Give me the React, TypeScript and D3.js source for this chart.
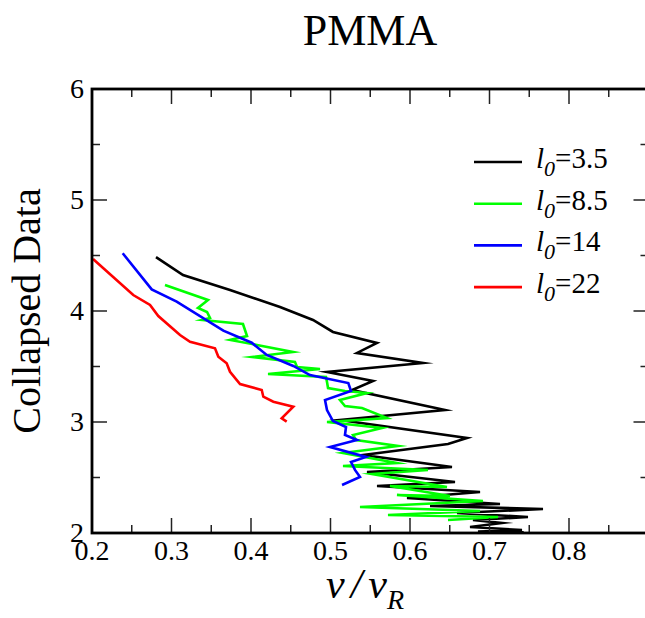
import React from 'react';
import * as d3 from 'd3';

const chartTitle = 'PMMA';
const xLabelMain = 'v';
const xLabelSub = 'R';
const yLabel = 'Collapsed Data';
const xTickValues = [0.2, 0.3, 0.4, 0.5, 0.6, 0.7, 0.8];
const yTickValues = [2, 3, 4, 5, 6];
const legendValues = ['3.5', '8.5', '14', '22'];
const seriesColors = ['#000000', '#00ff00', '#0000ff', '#ff0000'];

const seriesL35: [number, number][] = [
  [0.2805, 4.486], [0.3145, 4.324], [0.3736, 4.189], [0.4365, 4.036], [0.478, 3.919],
  [0.5031, 3.811], [0.5585, 3.712], [0.5333, 3.622], [0.6164, 3.532], [0.4956, 3.45],
  [0.5535, 3.369], [0.527, 3.288], [0.644, 3.108], [0.5119, 3.018], [0.6717, 2.856],
  [0.6478, 2.802], [0.5409, 2.703], [0.6528, 2.595], [0.5459, 2.55], [0.6566, 2.459],
  [0.5585, 2.423], [0.6881, 2.369], [0.5962, 2.315], [0.7132, 2.261], [0.6252, 2.243],
  [0.7673, 2.216], [0.6591, 2.18], [0.7484, 2.144], [0.6792, 2.117], [0.7157, 2.09],
  [0.6755, 2.054], [0.7409, 2.027], [0.6855, 2.012], [0.743, 2.006],
];

const seriesL85: [number, number][] = [
  [0.2918, 4.234], [0.3459, 4.099], [0.3333, 4.027], [0.3447, 3.991], [0.3484, 3.937],
  [0.3384, 3.919], [0.3899, 3.883], [0.395, 3.775], [0.3736, 3.739], [0.4075, 3.694],
  [0.4528, 3.631], [0.4013, 3.586], [0.4553, 3.541], [0.4579, 3.495], [0.4868, 3.477],
  [0.4214, 3.432], [0.4943, 3.405], [0.4956, 3.36], [0.4969, 3.306], [0.5182, 3.279],
  [0.5459, 3.261], [0.5119, 3.198], [0.5182, 3.144], [0.5396, 3.126], [0.5711, 3.036],
  [0.4956, 3.0], [0.5648, 2.946], [0.5283, 2.883], [0.5321, 2.838], [0.5849, 2.784],
  [0.5157, 2.721], [0.5836, 2.631], [0.5157, 2.604], [0.6226, 2.568], [0.5522, 2.532],
  [0.6465, 2.414], [0.5748, 2.423], [0.6503, 2.333], [0.5836, 2.342], [0.6918, 2.288],
  [0.5371, 2.234], [0.6881, 2.198], [0.5723, 2.162], [0.7107, 2.144], [0.6478, 2.117],
];

const seriesL14: [number, number][] = [
  [0.2386, 4.52], [0.2751, 4.195], [0.3065, 4.084], [0.3652, 3.823], [0.4009, 3.714],
  [0.4198, 3.604], [0.4532, 3.505], [0.4742, 3.423], [0.5224, 3.351], [0.5258, 3.279],
  [0.4931, 3.198], [0.4956, 3.108], [0.5031, 3.009], [0.5195, 2.955], [0.5182, 2.883],
  [0.5333, 2.838], [0.4994, 2.775], [0.5447, 2.685], [0.5258, 2.64], [0.5308, 2.568],
  [0.5371, 2.505], [0.5145, 2.432],
];

const seriesL22: [number, number][] = [
  [0.2013, 4.468], [0.2519, 4.144], [0.273, 4.054], [0.2834, 3.955], [0.3107, 3.784],
  [0.3233, 3.723], [0.3547, 3.664], [0.3589, 3.588], [0.3694, 3.529], [0.3736, 3.453],
  [0.3862, 3.342], [0.4135, 3.288], [0.4155, 3.228], [0.4281, 3.183], [0.4532, 3.138],
  [0.4386, 3.033], [0.4449, 3.003],
];

const allSeries = [seriesL35, seriesL85, seriesL14, seriesL22];

const W = 645;
const H = 618;
const left = 92;
const right = 648.5;
const top = 89;
const bottom = 533;
const fontStyle = { fontFamily: '"Liberation Serif", "Times New Roman", Times, serif' };

export default function App() {
  const x = d3.scaleLinear().domain([0.2, 0.9]).range([left, right]);
  const y = d3.scaleLinear().domain([2, 6]).range([bottom, top]);
  const line = d3.line<[number, number]>().x(d => x(d[0])).y(d => y(d[1]));

  const xMajor = d3.range(0.2, 0.901, 0.1);
  const xMinor = d3.range(0.25, 0.9, 0.1);
  const yMajor = d3.range(2, 6.001, 1);
  const yMinor = d3.range(2.5, 6, 1);
  const majorLen = 15;
  const minorLen = 8;
  const tickStroke = '#222';

  return (
    <svg width={W} height={H} style={{ position: 'absolute', left: 0, top: 0, display: 'block', background: '#fff' }}>
      <rect x={0} y={0} width={W} height={H} fill="#fff" />
      {allSeries.map((s, i) => (
        <path key={i} d={line(s) || ''} fill="none" stroke={seriesColors[i]} strokeWidth={2.6} strokeLinejoin="miter" strokeMiterlimit={10} />
      ))}
      {xMajor.map((v, i) => (
        <g key={'xM' + i}>
          <line x1={x(v)} x2={x(v)} y1={bottom} y2={bottom - majorLen} stroke={tickStroke} strokeWidth={1.5} />
          <line x1={x(v)} x2={x(v)} y1={top} y2={top + majorLen} stroke={tickStroke} strokeWidth={1.5} />
        </g>
      ))}
      {xMinor.map((v, i) => (
        <g key={'xm' + i}>
          <line x1={x(v)} x2={x(v)} y1={bottom} y2={bottom - minorLen} stroke={tickStroke} strokeWidth={1.5} />
          <line x1={x(v)} x2={x(v)} y1={top} y2={top + minorLen} stroke={tickStroke} strokeWidth={1.5} />
        </g>
      ))}
      {yMajor.map((v, i) => (
        <g key={'yM' + i}>
          <line x1={left} x2={left + majorLen} y1={y(v)} y2={y(v)} stroke={tickStroke} strokeWidth={1.5} />
          <line x1={right} x2={right - majorLen} y1={y(v)} y2={y(v)} stroke={tickStroke} strokeWidth={1.5} />
        </g>
      ))}
      {yMinor.map((v, i) => (
        <g key={'ym' + i}>
          <line x1={left} x2={left + minorLen} y1={y(v)} y2={y(v)} stroke={tickStroke} strokeWidth={1.5} />
          <line x1={right} x2={right - minorLen} y1={y(v)} y2={y(v)} stroke={tickStroke} strokeWidth={1.5} />
        </g>
      ))}
      <rect x={left} y={top} width={right - left} height={bottom - top} fill="none" stroke="#000" strokeWidth={2.8} />
      {xTickValues.map((v, i) => (
        <text key={'xl' + i} x={x(v)} y={560} textAnchor="middle" style={fontStyle} fontSize={28} fill="#000">
          {v.toFixed(1)}
        </text>
      ))}
      {yTickValues.map((v, i) => (
        <text key={'yl' + i} x={84} y={y(v) + 9} textAnchor="end" style={fontStyle} fontSize={28} fill="#000">
          {String(v)}
        </text>
      ))}
      <text x={370} y={45} textAnchor="middle" style={fontStyle} fontSize={44} fill="#000">{chartTitle}</text>
      <text transform={`translate(40,${y(4)}) rotate(-90)`} textAnchor="middle" style={fontStyle} fontSize={40} fill="#000">{yLabel}</text>
      <text x={326} y={598} style={fontStyle} fontSize={42} fontStyle="italic" fill="#000">
        <tspan>{xLabelMain}</tspan>
        <tspan dx={6}>/</tspan>
        <tspan dx={6}>{xLabelMain}</tspan>
        <tspan dy={11} fontSize={28}>{xLabelSub}</tspan>
      </text>
      {legendValues.map((v, i) => {
        const ly = 162 + i * 41.7;
        return (
          <g key={'lg' + i}>
            <line x1={474} x2={522} y1={ly} y2={ly} stroke={seriesColors[i]} strokeWidth={2.6} />
            <text x={536} y={ly + 6} style={fontStyle} fontSize={29} fill="#000">
              <tspan fontStyle="italic">l</tspan>
              <tspan fontStyle="italic" fontSize={22} dy={8}>0</tspan>
              <tspan dy={-8}>={v}</tspan>
            </text>
          </g>
        );
      })}
    </svg>
  );
}
